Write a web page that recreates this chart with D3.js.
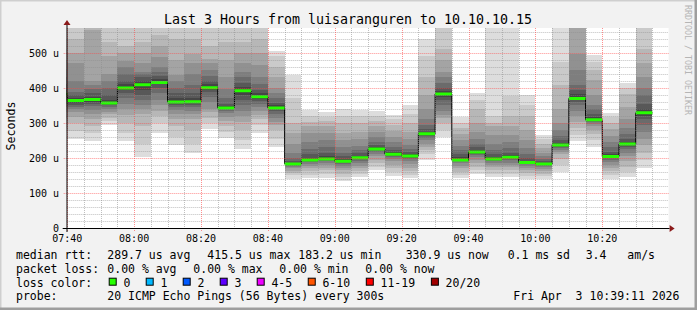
<!DOCTYPE html>
<html>
<head>
<meta charset="utf-8">
<script src="https://cdn.jsdelivr.net/npm/d3@7"></script>
<style>
    body { margin: 0; background: #fff; }
    text { font-family: "DejaVu Sans Mono", monospace; fill: #000; }
</style>
</head>
<body>
<div id="chart"></div>
<script>
// 5 minute slots (start time of each step)
const slots = ["07:35", "07:40", "07:45", "07:50", "07:55", "08:00", "08:05", "08:10", "08:15",
    "08:20", "08:25", "08:30", "08:35", "08:40", "08:45", "08:50", "08:55", "09:00", "09:05",
    "09:10", "09:15", "09:20", "09:25", "09:30", "09:35", "09:40", "09:45", "09:50", "09:55",
    "10:00", "10:05", "10:10", "10:15", "10:20", "10:25", "10:30"];

// median rtt per slot (microseconds)
const medians = [383, 364, 367, 357, 400, 409, 416, 360, 361, 401, 343, 392, 375, 343, 183, 194,
    197, 191, 201, 226, 211, 206, 269, 383, 194, 217, 197, 202, 187, 183, 237, 370, 309, 204, 240, 329];

// the 20 sorted pings of each slot (microseconds)
const pings = [
    [270, 285, 300, 315, 330, 345, 355, 365, 375, 380, 386, 395, 410, 430, 455, 480, 510, 540, 580, 620],
    [255, 278, 300, 318, 330, 340, 346, 352, 357, 361, 366, 372, 380, 388, 420, 470, 500, 540, 580, 640],
    [248, 270, 290, 310, 325, 338, 348, 355, 361, 365, 369, 375, 385, 398, 408, 420, 565, 600, 640, 700],
    [293, 305, 315, 325, 332, 340, 346, 350, 354, 356, 358, 365, 380, 400, 420, 440, 490, 530, 590, 650],
    [248, 270, 300, 323, 340, 355, 370, 385, 393, 398, 402, 410, 420, 440, 460, 478, 500, 520, 580, 640],
    [203, 240, 290, 326, 340, 352, 365, 380, 395, 405, 412, 420, 430, 440, 446, 470, 500, 530, 570, 620],
    [271, 300, 320, 335, 350, 366, 385, 400, 410, 414, 418, 425, 435, 446, 460, 488, 520, 551, 600, 650],
    [238, 260, 290, 312, 325, 338, 345, 352, 356, 359, 362, 370, 385, 400, 420, 437, 480, 540, 600, 650],
    [215, 240, 280, 310, 325, 335, 345, 352, 357, 360, 363, 370, 385, 408, 440, 470, 498, 540, 580, 620],
    [284, 300, 315, 330, 341, 360, 375, 388, 395, 399, 403, 410, 420, 435, 450, 470, 484, 520, 570, 620],
    [258, 275, 290, 305, 318, 328, 335, 339, 341, 342, 344, 348, 355, 370, 398, 430, 480, 531, 580, 620],
    [227, 250, 280, 303, 320, 335, 350, 365, 380, 390, 394, 402, 415, 430, 446, 470, 500, 530, 580, 620],
    [270, 295, 310, 323, 335, 345, 355, 362, 368, 373, 377, 385, 395, 410, 430, 466, 500, 540, 590, 640],
    [230, 255, 280, 295, 303, 315, 325, 333, 339, 342, 345, 350, 358, 370, 385, 400, 430, 460, 490, 505],
    [141, 150, 158, 164, 170, 175, 178, 180, 182, 183, 184, 186, 190, 200, 215, 240, 270, 300, 370, 436],
    [143, 152, 162, 170, 178, 184, 188, 191, 193, 194, 196, 200, 210, 225, 245, 270, 290, 302, 320, 338],
    [143, 155, 165, 172, 180, 186, 190, 193, 196, 197, 199, 205, 215, 230, 250, 270, 290, 305, 318, 331],
    [133, 145, 155, 165, 172, 178, 184, 188, 190, 191, 193, 196, 205, 215, 230, 250, 270, 300, 320, 339],
    [146, 155, 163, 170, 178, 185, 192, 196, 199, 200, 202, 206, 213, 222, 235, 255, 275, 300, 320, 336],
    [165, 175, 185, 195, 205, 212, 218, 222, 224, 226, 228, 232, 238, 246, 260, 275, 290, 305, 320, 333],
    [149, 160, 170, 180, 190, 197, 203, 207, 209, 211, 213, 216, 222, 232, 245, 260, 278, 295, 310, 322],
    [143, 152, 162, 172, 182, 190, 197, 201, 204, 206, 208, 212, 218, 226, 238, 255, 275, 300, 325, 350],
    [195, 210, 222, 232, 240, 250, 258, 263, 266, 268, 270, 274, 282, 295, 310, 340, 380, 430, 490, 539],
    [260, 280, 300, 315, 322, 335, 350, 365, 375, 381, 385, 392, 400, 415, 430, 446, 480, 512, 570, 620],
    [143, 152, 160, 170, 178, 185, 190, 193, 195, 196, 198, 202, 210, 222, 235, 250, 268, 285, 300, 317],
    [153, 165, 175, 185, 195, 202, 208, 212, 215, 217, 219, 223, 230, 240, 255, 274, 300, 341, 365, 387],
    [145, 155, 165, 173, 180, 186, 191, 194, 196, 197, 199, 203, 210, 222, 240, 265, 290, 300, 320, 600],
    [145, 155, 165, 173, 180, 187, 193, 197, 200, 202, 204, 208, 215, 228, 245, 265, 290, 320, 378, 620],
    [139, 148, 158, 165, 172, 178, 182, 185, 186, 187, 188, 192, 200, 212, 228, 250, 280, 320, 350, 381],
    [139, 148, 155, 162, 168, 174, 178, 180, 182, 183, 184, 186, 190, 196, 205, 215, 228, 240, 255, 267],
    [160, 180, 198, 210, 217, 222, 228, 232, 235, 237, 239, 243, 250, 262, 280, 300, 341, 409, 474, 600],
    [249, 265, 285, 303, 320, 335, 350, 360, 366, 369, 372, 382, 395, 408, 450, 498, 590, 620, 660, 700],
    [231, 250, 268, 280, 290, 298, 303, 306, 308, 309, 311, 316, 325, 340, 351, 380, 423, 450, 475, 493],
    [141, 152, 162, 172, 180, 188, 195, 200, 202, 204, 206, 210, 218, 230, 245, 262, 282, 300, 318, 329],
    [146, 160, 175, 190, 205, 215, 225, 232, 237, 240, 242, 247, 255, 268, 285, 312, 345, 384, 400, 415],
    [172, 195, 215, 237, 255, 275, 295, 310, 320, 327, 331, 340, 355, 379, 400, 430, 470, 512, 580, 640]
];

const yTicks = [0, 100, 200, 300, 400, 500];
const yTickLabels = ["0", "100 u", "200 u", "300 u", "400 u", "500 u"];
const xTickLabels = ["07:40", "08:00", "08:20", "08:40", "09:00", "09:20", "09:40", "10:00", "10:20"];

const lossNames = ["0", "1", "2", "3", "4-5", "6-10", "11-19", "20/20"];
const lossColors = ["#26ff00", "#00b8ff", "#0059ff", "#5e00ff", "#ee00ff", "#ff5500", "#ff0000", "#a10000"];

const title = "Last 3 Hours from luisaranguren to 10.10.10.15";
const rttLine = [["median rtt:", 16], ["289.7 us avg", 107.3], ["415.5 us max", 207.3],
    ["183.2 us min", 298.3], ["330.9 us now", 405.7], ["0.1 ms sd", 507.7], ["3.4", 585.7], ["am/s", 627.3]];
const lossLine = [["packet loss:", 16], ["0.00 % avg", 107.3], ["0.00 % max", 193.3],
    ["0.00 % min", 279.3], ["0.00 % now", 365.3]];
const probeLine = [["probe:", 16], ["20 ICMP Echo Pings (56 Bytes) every 300s", 107.3],
    ["Fri Apr  3 10:39:11 2026", 513.3]];

const W = 697, H = 310;
const plot = { left: 66.7, right: 668.6, top: 28, bottom: 228 };

const parseT = t => {
    const [h, m] = t.split(":").map(Number);
    return new Date(2026, 3, 3, h, m, 0);
};

const x = d3.scaleTime()
    .domain([new Date(2026, 3, 3, 7, 39, 50), new Date(2026, 3, 3, 10, 39, 50)])
    .range([plot.left, plot.right]);

const y = d3.scaleLinear()
    .domain([0, 571.4])
    .range([plot.bottom, plot.top]);

const svg = d3.select("#chart").append("svg")
    .attr("width", W)
    .attr("height", H);

// frame
svg.append("rect").attr("width", W).attr("height", H).attr("fill", "#f2f2f2");
svg.append("path").attr("d", `M0,${H} V0 H${W}`).attr("stroke", "#cfcfcf").attr("stroke-width", 3).attr("fill", "none");
svg.append("path").attr("d", `M0,${H - 1} H${W - 1} V0`).attr("stroke", "#9e9e9e").attr("stroke-width", 3).attr("fill", "none");

svg.append("rect")
    .attr("x", plot.left).attr("y", plot.top)
    .attr("width", plot.right - plot.left).attr("height", plot.bottom - plot.top)
    .attr("fill", "#fff");

svg.append("defs").append("clipPath").attr("id", "clip")
    .append("rect")
    .attr("x", plot.left).attr("y", plot.top)
    .attr("width", plot.right - plot.left).attr("height", plot.bottom - plot.top);

const g = svg.append("g").attr("clip-path", "url(#clip)");

const step = 5 * 60 * 1000;
const data = slots.map((s, i) => ({ t0: parseT(s), t1: new Date(+parseT(s) + step), med: medians[i], p: pings[i] }));

// smoke: band k spans ping k .. ping (21-k), lighter outside, darker inside
const half = 10;
for (let k = 1; k <= half; k++) {
    const grey = Math.floor(190 / half * (half - k)) + 50;
    g.selectAll(null)
        .data(data)
        .enter()
        .append("rect")
        .attr("x", d => x(d.t0))
        .attr("width", d => x(d.t1) - x(d.t0))
        .attr("y", d => y(d.p[20 - k]))
        .attr("height", d => y(d.p[k - 1]) - y(d.p[20 - k]))
        .attr("fill", d3.rgb(grey, grey, grey))
        .attr("shape-rendering", "crispEdges");
}

// grid
const grid = svg.append("g");
const minorTimes = d3.timeMinute.every(5).range(x.domain()[0], x.domain()[1]);
grid.selectAll(null)
    .data(minorTimes.filter(t => t.getMinutes() % 20 !== 0))
    .enter().append("line")
    .attr("x1", d => Math.round(x(d)) + 0.5).attr("x2", d => Math.round(x(d)) + 0.5)
    .attr("y1", plot.top).attr("y2", plot.bottom)
    .attr("stroke", "rgba(140,140,140,0.55)").attr("stroke-dasharray", "1,1");
grid.selectAll(null)
    .data(d3.range(20, 571, 20).filter(v => v % 100 !== 0))
    .enter().append("line")
    .attr("x1", plot.left).attr("x2", plot.right)
    .attr("y1", d => Math.round(y(d)) + 0.5).attr("y2", d => Math.round(y(d)) + 0.5)
    .attr("stroke", "rgba(140,140,140,0.55)").attr("stroke-dasharray", "1,1");
grid.selectAll(null)
    .data(xTickLabels.map(parseT))
    .enter().append("line")
    .attr("x1", d => Math.round(x(d)) + 0.5).attr("x2", d => Math.round(x(d)) + 0.5)
    .attr("y1", plot.top).attr("y2", plot.bottom + 3)
    .attr("stroke", "rgba(255,70,70,0.6)").attr("stroke-dasharray", "1,1");
grid.selectAll(null)
    .data(yTicks.slice(1))
    .enter().append("line")
    .attr("x1", plot.left - 3).attr("x2", plot.right)
    .attr("y1", d => Math.round(y(d)) + 0.5).attr("y2", d => Math.round(y(d)) + 0.5)
    .attr("stroke", "rgba(255,70,70,0.6)").attr("stroke-dasharray", "1,1");

// median: black step line, then loss-coloured segments
const stepPts = data.map(d => [d.t0, d.med]).concat([[data[data.length - 1].t1, data[data.length - 1].med]]);
g.append("path")
    .attr("d", d3.line().x(d => x(d[0])).y(d => y(d[1])).curve(d3.curveStepAfter)(stepPts))
    .attr("fill", "none").attr("stroke", "#000").attr("stroke-width", 1);
g.selectAll(null)
    .data(data)
    .enter().append("line")
    .attr("x1", d => x(d.t0)).attr("x2", d => x(d.t1))
    .attr("y1", d => y(d.med)).attr("y2", d => y(d.med))
    .attr("stroke", lossColors[0]).attr("stroke-width", 3);

// axes
const axisCol = "#000";
svg.append("line").attr("x1", plot.left - 4).attr("x2", plot.right + 1)
    .attr("y1", plot.bottom + 0.5).attr("y2", plot.bottom + 0.5).attr("stroke", axisCol);
svg.append("line").attr("x1", plot.left + 0.3).attr("x2", plot.left + 0.3)
    .attr("y1", plot.bottom + 4).attr("y2", plot.top - 3).attr("stroke", axisCol);
svg.append("path").attr("d", `M${plot.right + 1},${plot.bottom - 3} L${plot.right + 6},${plot.bottom + 0.5} L${plot.right + 1},${plot.bottom + 4} Z`)
    .attr("fill", "#8b1a1a");
svg.append("path").attr("d", `M${plot.left - 3.2},${plot.top - 3} L${plot.left + 0.3},${plot.top - 8} L${plot.left + 3.8},${plot.top - 3} Z`)
    .attr("fill", "#8b1a1a");

// tick labels
svg.selectAll(null)
    .data(yTicks)
    .enter().append("text")
    .attr("x", 59).attr("y", d => y(d)).attr("dy", "0.36em")
    .attr("text-anchor", "end").attr("font-size", "10px")
    .text((d, i) => yTickLabels[i]);
svg.selectAll(null)
    .data(xTickLabels)
    .enter().append("text")
    .attr("x", d => x(parseT(d))).attr("y", 242)
    .attr("text-anchor", "middle").attr("font-size", "10px")
    .text(d => d);

svg.append("text")
    .attr("transform", "translate(15,126) rotate(-90)")
    .attr("text-anchor", "middle").attr("font-size", "11.6px")
    .text("Seconds");

svg.append("text")
    .attr("x", 348).attr("y", 23.5)
    .attr("text-anchor", "middle").attr("font-size", "13.3px")
    .text(title);

svg.append("text")
    .attr("transform", "translate(685,5) rotate(90)")
    .attr("font-size", "8.3px").style("fill", "#b5b5b5")
    .text("RRDTOOL / TOBI OETIKER");

// legend
const legendFont = "11.5px";
function legendRow(items, yPos) {
    svg.selectAll(null)
        .data(items)
        .enter().append("text")
        .attr("x", d => d[1]).attr("y", yPos)
        .attr("font-size", legendFont)
        .attr("xml:space", "preserve")
        .text(d => d[0]);
}
legendRow(rttLine, 259);
legendRow(lossLine, 272.8);
legendRow([["loss color:", 16]], 286.5);
legendRow(probeLine, 300);

let lx = 108.7;
lossNames.forEach((name, i) => {
    svg.append("rect")
        .attr("x", lx + 0.5).attr("y", 278.2).attr("width", 7).attr("height", 7)
        .attr("fill", lossColors[i]).attr("stroke", "#000");
    svg.append("text")
        .attr("x", lx + 14.7).attr("y", 286.5)
        .attr("font-size", legendFont)
        .text(name);
    lx += 37 + (name.length - 1) * 7.02;
});
</script>
</body>
</html>
